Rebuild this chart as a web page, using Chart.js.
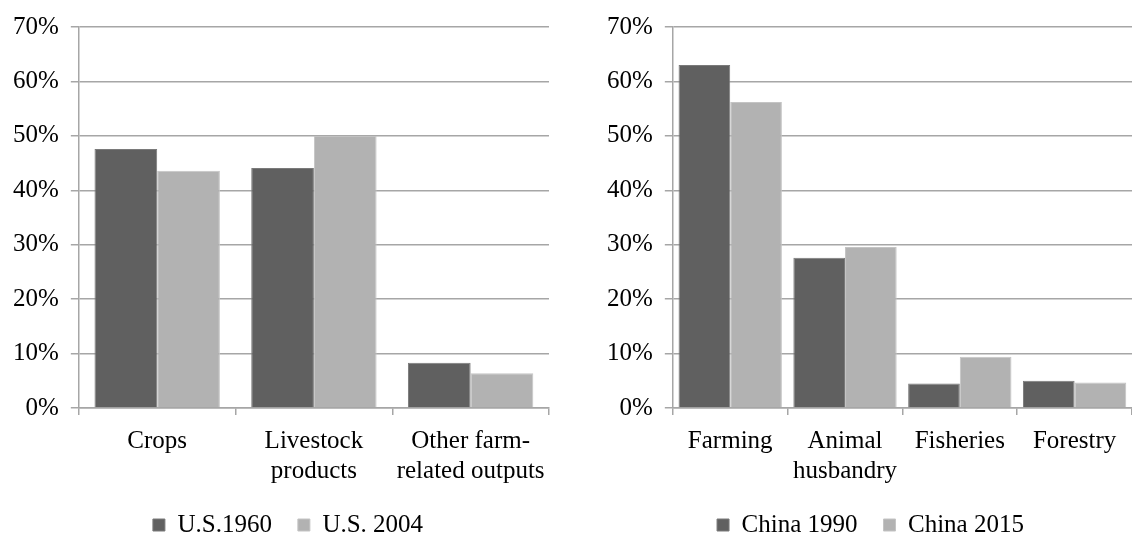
<!DOCTYPE html>
<html>
<head>
<meta charset="utf-8">
<script src="https://cdn.jsdelivr.net/npm/chart.js@4/dist/chart.umd.min.js"></script>
<style>
  html, body { margin: 0; padding: 0; background: #fff; }
  .box { position: absolute; top: 0; height: 534px; }
  #leftBox { left: 0; width: 566px; }
  #rightBox { left: 566px; width: 566px; }
</style>
</head>
<body>
<div class="box" id="leftBox"><canvas id="usChart"></canvas></div>
<div class="box" id="rightBox"><canvas id="chinaChart"></canvas></div>
<script>
var usCategories = ['Crops', ['Livestock', 'products'], ['Other farm-', 'related outputs']];
var us1960 = [47.6, 44.1, 8.3];
var us2004 = [43.6, 50.0, 6.4];

var chinaCategories = ['Farming', ['Animal', 'husbandry'], 'Fisheries', 'Forestry'];
var china1990 = [63.0, 27.6, 4.5, 5.0];
var china2015 = [56.2, 29.6, 9.4, 4.7];

var yTicks = [0, 10, 20, 30, 40, 50, 60, 70];

var serif = "'Liberation Serif', 'Times New Roman', serif";
var gridColor = '#a6a6a6';
var darkGrey = '#606060';
var lightGrey = '#b2b2b2';

// put the legend row where the original has it
function legendPlace(dx, centerY) {
  return {
    id: 'legendPlace',
    afterLayout: function(chart) {
      var lg = chart.legend;
      var h = lg.height;
      lg.left += dx; lg.right += dx;
      lg.top = centerY - lg.options.labels.padding - 12.5;
      lg.bottom = lg.top + h;
    }
  };
}

function makeOptions(catPct, padLeft, padRight) {
  return {
    responsive: true,
    maintainAspectRatio: false,
    animation: false,
    layout: { padding: { top: 23, left: padLeft, right: padRight, bottom: -24 } },
    datasets: { bar: { categoryPercentage: catPct, barPercentage: 1.0 } },
    plugins: {
      tooltip: { enabled: false },
      legend: {
        position: 'bottom',
        labels: {
          boxWidth: 12,
          boxHeight: 12,
          padding: 26,
          color: '#000',
          font: { family: serif, size: 25 }
        }
      }
    },
    scales: {
      x: {
        grid: { display: true, drawOnChartArea: false, color: gridColor, lineWidth: 1.5, tickLength: 7 },
        border: { display: true, color: gridColor, width: 1.5 },
        ticks: { color: '#000', font: { family: serif, size: 25 }, padding: 11, maxRotation: 0, autoSkip: false }
      },
      y: {
        min: 0,
        max: 70,
        afterBuildTicks: function(scale) {
          scale.ticks = yTicks.map(function(v) { return { value: v }; });
        },
        grid: { color: gridColor, lineWidth: 1.5, tickLength: 8 },
        border: { display: true, color: gridColor, width: 1.5 },
        ticks: {
          color: '#000',
          font: { family: serif, size: 25 },
          padding: 12,
          callback: function(v) { return v + '%'; }
        }
      }
    }
  };
}

new Chart(document.getElementById('usChart').getContext('2d'), {
  type: 'bar',
  data: {
    labels: usCategories,
    datasets: [
      { label: 'U.S.1960', data: us1960, backgroundColor: darkGrey, borderColor: '#7a7a7a', borderWidth: 1 },
      { label: 'U.S. 2004', data: us2004, backgroundColor: lightGrey, borderColor: '#c4c4c4', borderWidth: 1 }
    ]
  },
  options: makeOptions(0.8, 1, 17),
  plugins: [legendPlace(13, 525)]
});

new Chart(document.getElementById('chinaChart').getContext('2d'), {
  type: 'bar',
  data: {
    labels: chinaCategories,
    datasets: [
      { label: 'China 1990', data: china1990, backgroundColor: darkGrey, borderColor: '#7a7a7a', borderWidth: 1 },
      { label: 'China 2015', data: china2015, backgroundColor: lightGrey, borderColor: '#c4c4c4', borderWidth: 1 }
    ]
  },
  options: makeOptions(0.9, 29, 0),
  plugins: [legendPlace(7, 525)]
});
</script>
</body>
</html>
